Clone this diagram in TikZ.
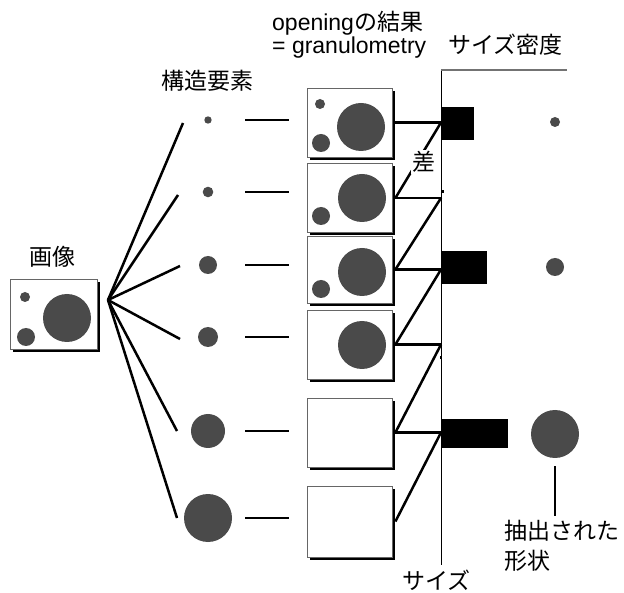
\documentclass[tikz,border=0pt]{standalone}
\usepackage{fontspec}
\setmainfont{Liberation Sans}
\newfontfamily\jp{Noto Sans CJK JP}
\usetikzlibrary{shadows,calc}
\definecolor{dg}{RGB}{74,74,74}
\begin{document}
\begin{tikzpicture}[x=1pt,y=-1pt,
  lbl/.style={inner sep=0pt,font=\fontsize{23}{28}\selectfont},
  disc/.style={circle,fill=dg,inner sep=0pt,minimum size=#1pt},
  pane/.style={rectangle,draw=black!60,line width=0.8pt,fill=white,inner sep=0pt,
    minimum width=85pt,minimum height=69pt,
    drop shadow={shadow xshift=3pt,shadow yshift=-3pt,fill=black,opacity=1}},
  conn/.style={line width=2.5pt},
  bar/.style={rectangle,fill=black,inner sep=0pt,anchor=west}
]
\useasboundingbox (0,0) rectangle (624,593);

% input image
\node[pane,minimum width=87pt,minimum height=70pt] (img) at (53.5,314) {};
\node[disc=10] (i1) at (25,297) {};
\node[disc=18] (i2) at (26,337) {};
\node[disc=48] (i3) at (67,318) {};
\node[lbl] (imglbl) at (52,257) {\jp 画像};

% structuring elements
\node[disc=7.4] (s1) at (208,120) {};
\node[disc=10.6] (s2) at (208,192) {};
\node[disc=18] (s3) at (208,265) {};
\node[disc=20] (s4) at (208,337) {};
\node[disc=34] (s5) at (208,431) {};
\node[disc=48] (s6) at (208,518) {};
\node[lbl] (selbl) at (207.5,81) {\jp 構造要素};

% fan
\coordinate (fan) at (108,300);
\coordinate (f1) at (183,123);
\coordinate (f2) at (178,195);
\coordinate (f3) at (180,266);
\coordinate (f4) at (180,339);
\coordinate (f5) at (177,431);
\coordinate (f6) at (177,518);
\foreach \i in {1,...,6} \draw[conn] (fan) -- (f\i);

% opening results
\node[pane] (b1) at (349.5,122.5) {};
\node[pane] (b2) at (349.5,198) {};
\node[pane,minimum height=67pt] (b3) at (349.5,269.5) {};
\node[pane] (b4) at (349.5,344.5) {};
\node[pane] (b5) at (349.5,432.5) {};
\node[pane,minimum height=71pt] (b6) at (349.5,521.5) {};

\node[disc=10] (b1a) at (320,104) {};
\node[disc=18] (b1b) at (321,143) {};
\node[disc=48] (b1c) at (361,127) {};
\node[disc=18] (b2b) at (321,216) {};
\node[disc=48] (b2c) at (362,198) {};
\node[disc=18] (b3b) at (321,289) {};
\node[disc=48] (b3c) at (362,272) {};
\node[disc=48] (b4c) at (362,345) {};

% short lines
\foreach \i in {1,...,6}
  \draw[conn] ($(s\i.center)+(37,0)$) -- ($(s\i.center -| b\i.west)+(-18,0)$);

% size axis
\coordinate (axtop) at (441,70);
\coordinate (axbot) at (441,565);
\coordinate (tr) at (567,70);
\draw[line width=0.9pt] (axtop) -- (axbot);
\draw[black!55,line width=1.3pt] (axtop) -- (tr);

% connectors to axis
\foreach \i in {1,...,5}
  \draw[conn] ([xshift=3pt]b\i.east) -- (b\i.east -| axtop);
\draw[conn] ([xshift=3pt]b2.east) -- (b1.east -| axtop);
\draw[conn] ([xshift=3pt]b3.east) -- (b2.east -| axtop);
\draw[conn] ([xshift=3pt]b4.east) -- (b3.east -| axtop);
\draw[conn] ([xshift=3pt]b5.east) -- (b4.east -| axtop);
\draw[conn] ([xshift=3pt]b6.east) -- (b5.east -| axtop);

\node[lbl,fill=white,inner sep=1.5pt] (sa) at (424,162) {\jp 差};

% tiny marks on axis
\fill (441,190.5) rectangle (444,193.5);
\fill (440,356) rectangle (442,359);

% bars
\node[bar,minimum width=33pt,minimum height=33pt] (r1) at (441,123.5) {};
\node[bar,minimum width=46pt,minimum height=33pt] (r2) at (441,267.5) {};
\node[bar,minimum width=67pt,minimum height=29pt] (r3) at (441,433.5) {};

% extracted shapes
\node[disc=10] (e1) at (555,122) {};
\node[disc=18] (e2) at (555,267) {};
\node[disc=48] (e3) at (555,434) {};
\node[lbl,anchor=base west] (ex1) at (504,539) {\jp 抽出された};
\node[lbl,anchor=base west] (ex2) at (504,569) {\jp 形状};
\draw[line width=2.2pt] ([yshift=-8pt]e3.south) -- ($(e3 |- ex1.north)+(0,-3)$);

% titles
\node[lbl,anchor=base west] (op1) at (272,31) {opening{\jp の結果}};
\node[lbl,anchor=base west] (op2) at (272,54) {= granulometry};
\node[lbl,anchor=base west] (sd) at (448,54) {\jp サイズ密度};
\node[lbl,anchor=base] (sz) at (436.5,589) {\jp サイズ};
\end{tikzpicture}
\end{document}
